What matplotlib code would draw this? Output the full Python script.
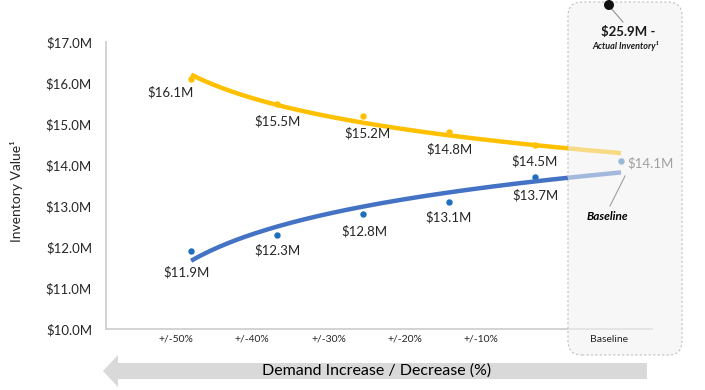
import numpy as np
import matplotlib.pyplot as plt
from matplotlib.patches import FancyBboxPatch, Polygon, Circle
from matplotlib.lines import Line2D

# data
categories = ['+/-50%', '+/-40%', '+/-30%', '+/-20%', '+/-10%', 'Baseline']
upper_vals = [16.1, 15.5, 15.2, 14.8, 14.5]
lower_vals = [11.9, 12.3, 12.8, 13.1, 13.7]
baseline_val = 14.1
actual_inventory = 25.9

# colors
yellow = '#ffc000'
blue_line = '#4472c4'
blue_dot = '#1f6fc0'
txt = '#262626'

plt.rcParams['font.family'] = ['Lato', 'DejaVu Sans']

fig = plt.figure(figsize=(7.05, 3.9), dpi=100)
W, H = 705, 390


def px(x, y):
    # pixel (top-left origin) -> inches for dpi_scale_trans
    return x / 100, (H - y) / 100


ax = fig.add_axes([106 / W, (H - 329) / H, (652 - 106) / W, (329 - 42) / H])

# log trendlines fitted on all six points (like Excel's logarithmic trendline)
n = len(upper_vals) + 1
xi = np.arange(1, n + 1)
up_all = np.array(upper_vals + [baseline_val])
lo_all = np.array(lower_vals + [baseline_val])
bu, au = np.polyfit(np.log(xi), up_all, 1)
bl, al = np.polyfit(np.log(xi), lo_all, 1)
xs = np.linspace(1, n, 200)
ax.plot(xs - 1, au + bu * np.log(xs), color=yellow, lw=3.2, solid_capstyle='butt', zorder=2)
ax.plot(xs - 1, al + bl * np.log(xs), color=blue_line, lw=3.2, solid_capstyle='butt', zorder=2)

pos = np.arange(len(upper_vals))
ax.plot(pos, upper_vals, 'o', color=yellow, ms=3.6, zorder=1.9)
ax.plot(pos, lower_vals, 'o', color=blue_dot, ms=3.6, zorder=1.9)
ax.plot([n - 1], [baseline_val], 'o', color='#2e75b6', ms=3.6, zorder=2)

# value labels (offsets in points)
up_off = [(-15, -9.5), (0, -12.5), (3, -12.5), (0, -12), (0, -12)]
lo_off = [(-3, -15), (0, -11.5), (1, -12), (0, -11), (0, -13)]
for i, v in enumerate(upper_vals):
    ax.annotate(f'${v:.1f}M', (pos[i], v), xytext=up_off[i], textcoords='offset points',
                ha='center', va='center', fontsize=9.5, color=txt, zorder=5)
for i, v in enumerate(lower_vals):
    ax.annotate(f'${v:.1f}M', (pos[i], v), xytext=lo_off[i], textcoords='offset points',
                ha='center', va='center', fontsize=9.5, color=txt, zorder=5)
ax.annotate(f'${baseline_val:.1f}M', (n - 1, baseline_val), xytext=(4.5, -1.5),
            textcoords='offset points', ha='left', va='center', fontsize=9.5,
            color='#a0a0a0', zorder=5)

# axes styling
ax.set_xlim(-0.99, 5.36)
ax.set_ylim(10, 17)
ax.set_yticks(np.arange(10, 17.5, 1))
ax.set_yticklabels([f'${v:.1f}M' for v in np.arange(10, 17.5, 1)])
tick_pos = [-0.174, 0.709, 1.605, 2.488, 3.372, 4.86]
ax.set_xticks(tick_pos)
ax.set_xticklabels(categories)
ax.tick_params(axis='y', length=0, pad=10, labelsize=9.5, labelcolor=txt)
ax.tick_params(axis='x', length=0, pad=4, labelsize=7.5, labelcolor=txt)
for s in ['top', 'right']:
    ax.spines[s].set_visible(False)
for s in ['left', 'bottom']:
    ax.spines[s].set_color('#d0d0d0')
    ax.spines[s].set_linewidth(1.3)
ax.xaxis.set_zorder(4)

# baseline box over the right side
box = FancyBboxPatch(px(568, 355), 1.14, 3.53,
                     boxstyle='round,pad=0,rounding_size=0.14',
                     transform=fig.dpi_scale_trans, fc=(0.95, 0.95, 0.95, 0.55),
                     ec='#c0c0c0', lw=0.8, ls=(0, (2, 2)), clip_on=False, zorder=3)
ax.add_patch(box)

# baseline callout
ax.add_line(Line2D(*zip(px(625, 176), px(610, 206)), transform=fig.dpi_scale_trans,
                   color='#a0a0a0', lw=0.8, clip_on=False, zorder=5))
ax.text(*px(607, 217), 'Baseline', transform=fig.dpi_scale_trans, ha='center', va='center',
        fontsize=8.5, fontweight='bold', style='italic', color='black', zorder=5)

# actual inventory callout
ax.add_line(Line2D(*zip(px(610, 7), px(623, 22)), transform=fig.dpi_scale_trans,
                   color='#909090', lw=0.8, clip_on=False, zorder=5))
ax.add_patch(Circle(px(609, 5), 0.05, transform=fig.dpi_scale_trans, fc='#111111',
                    ec='none', clip_on=False, zorder=6))
ax.text(*px(628, 32), f'${actual_inventory:.1f}M -', transform=fig.dpi_scale_trans,
        ha='center', va='center', fontsize=9.5, fontweight='bold', color='#1a1a1a', zorder=5)
ax.text(*px(626, 46), 'Actual Inventory\u00b9', transform=fig.dpi_scale_trans,
        ha='center', va='center', fontsize=6.5, fontweight='bold', style='italic',
        color='#1a1a1a', zorder=5)

# y label
fig.text(17 / W, 1 - 191 / H, 'Inventory Value\u00b9', rotation=90, ha='center', va='center',
         fontsize=10, color=txt)

# gray arrow with x label
arrow_pts = [px(103, 371), px(118, 355), px(118, 363), px(647, 363),
             px(647, 379), px(118, 379), px(118, 387)]
fig.add_artist(Polygon(arrow_pts, closed=True, transform=fig.dpi_scale_trans,
                       fc='#d9d9d9', ec='none'))
fig.text(*px(377, 371), 'Demand Increase / Decrease (%)', transform=fig.dpi_scale_trans,
         ha='center', va='center', fontsize=11.5, color='black')

fig.savefig('out.png', dpi=100)
